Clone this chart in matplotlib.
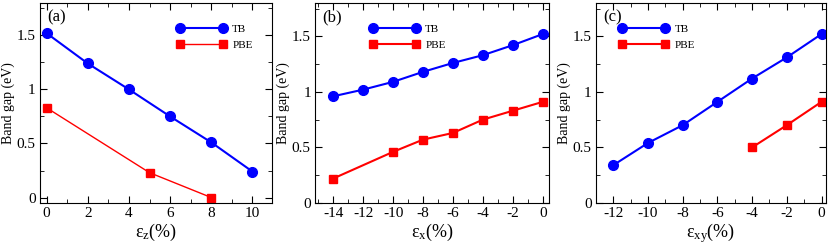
import matplotlib
matplotlib.use('Agg')
import matplotlib.pyplot as plt
from matplotlib.ticker import MultipleLocator, FormatStrFormatter

plt.rcParams['font.family'] = ['Liberation Serif', 'DejaVu Serif']
plt.rcParams['mathtext.fontset'] = 'custom'
plt.rcParams['mathtext.rm'] = 'Liberation Serif'
plt.rcParams['mathtext.it'] = 'Liberation Serif:italic'

# panel (a): strain along z
xa_tb = [0, 2, 4, 6, 8, 10]
ya_tb = [1.52, 1.24, 1.00, 0.75, 0.51, 0.24]
xa_pbe = [0, 5, 8]
ya_pbe = [0.83, 0.23, 0.00]

# panel (b): strain along x
xb_tb = [-14, -12, -10, -8, -6, -4, -2, 0]
yb_tb = [0.96, 1.02, 1.09, 1.18, 1.26, 1.33, 1.42, 1.52]
xb_pbe = [-14, -10, -8, -6, -4, -2, 0]
yb_pbe = [0.22, 0.46, 0.57, 0.63, 0.75, 0.83, 0.91]

# panel (c): biaxial strain
xc_tb = [-12, -10, -8, -6, -4, -2, 0]
yc_tb = [0.34, 0.54, 0.70, 0.91, 1.12, 1.31, 1.52]
xc_pbe = [-4, -2, 0]
yc_pbe = [0.50, 0.70, 0.91]

panels = [
    ('(a)', xa_tb, ya_tb, xa_pbe, ya_pbe, r'$\mathrm{ε_z}$(%)',
     [0.048, 0.175, 0.280, 0.813], (-0.33, 10.96), (-0.05, 1.8), 1.0, 0.57),
    ('(b)', xb_tb, yb_tb, xb_pbe, yb_pbe, r'$\mathrm{ε_x}$(%)',
     [0.3795, 0.175, 0.282, 0.813], (-15.22, 0.42), (0, 1.8), 1.5, 0.215),
    ('(c)', xc_tb, yc_tb, xc_pbe, yc_pbe, r'$\mathrm{ε_{xy}}$(%)',
     [0.718, 0.175, 0.277, 0.813], (-13.0, 0.25), (0, 1.8), 1.5, 0.08),
]

fig = plt.figure(figsize=(8.3, 2.46), dpi=100)
for lab, xt, yt, xp, yp, xl, pos, xlim, ylim, pbe_lw, legx in panels:
    ax = fig.add_axes(pos)
    ax.plot(xt, yt, '-o', color='#0000ff', lw=1.5, ms=7, label='TB')
    ax.plot(xp, yp, '-s', color='#ff0000', lw=pbe_lw, ms=5.5, label='PBE')
    ax.set_xlim(*xlim)
    ax.set_ylim(*ylim)
    ax.xaxis.set_major_locator(MultipleLocator(2))
    ax.xaxis.set_minor_locator(MultipleLocator(1))
    ax.yaxis.set_major_locator(MultipleLocator(0.5))
    ax.yaxis.set_minor_locator(MultipleLocator(0.25))
    ax.xaxis.set_major_formatter(FormatStrFormatter('%g'))
    ax.yaxis.set_major_formatter(FormatStrFormatter('%g'))
    ax.tick_params(which='both', direction='in', top=True, right=True,
                   labelsize=11, pad=3)
    ax.tick_params(which='major', length=5)
    ax.tick_params(which='minor', length=3)
    ax.set_xlabel(xl, fontsize=13, labelpad=1)
    ax.set_ylabel('Band gap (eV)', fontsize=10, labelpad=1)
    ax.text(0.03, 0.97, lab, transform=ax.transAxes, fontsize=12, va='top', ha='left')
    ax.legend(loc='lower left', bbox_to_anchor=(legx, 0.745), frameon=False, fontsize=8,
              numpoints=2, handlelength=4.5, labelspacing=0.5, handletextpad=0.5,
              borderaxespad=0)

fig.savefig('out.png', dpi=100)
